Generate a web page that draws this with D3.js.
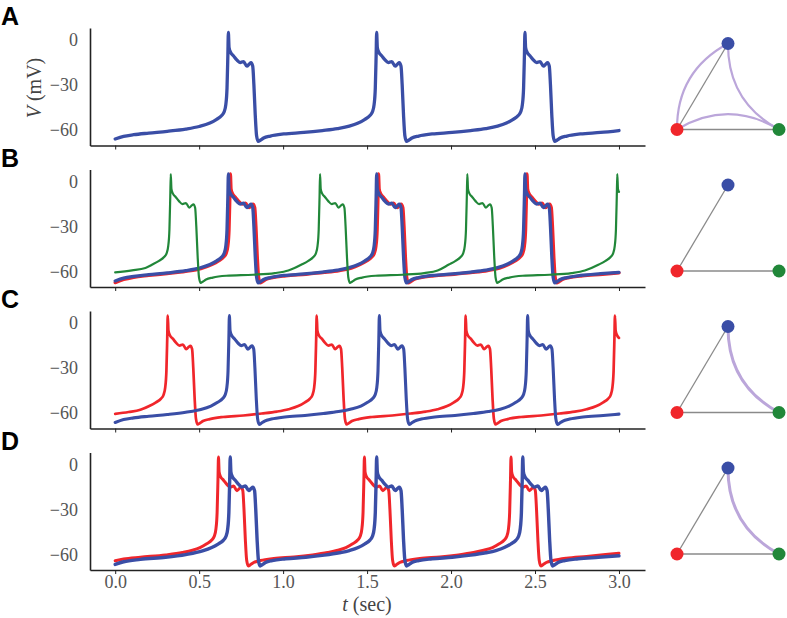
<!DOCTYPE html>
<html><head><meta charset="utf-8">
<script src="https://cdn.jsdelivr.net/npm/d3@7"></script>
<style>body{margin:0;background:#fff}svg{display:block}</style>
</head><body><svg id="c" width="787" height="618"></svg>
<script>
// ---------- data ----------
const xTicks = [0, 0.5, 1.0, 1.5, 2.0, 2.5, 3.0];
const yTicks = [0, -30, -60];
const panelLabels = ["A", "B", "C", "D"];

// Panel A: blue neuron
const aBlue = [[0,-66.2],[0.05,-64.4],[0.11,-63.3],[0.2,-62.2],[0.31,-61],[0.42,-59.5],[0.5,-57.8],
[0.564,-55.5],[0.604,-53],[0.634,-50.5],[0.649,-48],[0.659,-43],[0.666,-32],[0.671,-10],[0.674,5],[0.678,-5],[0.686,-8],[0.704,-10.5],[0.724,-13.3],[0.744,-15.1],[0.764,-14.4],[0.784,-17.5],[0.799,-16],[0.809,-15.2],[0.819,-17.5],[0.826,-30],[0.834,-50],[0.842,-64],[0.852,-67.8],[0.864,-67],[0.884,-65.5],[0.924,-64.2],
[1.004,-62.8],[1.124,-61.8],[1.234,-60.5],[1.324,-59.2],[1.394,-57.6],
[1.447,-55.5],[1.487,-53],[1.517,-50.5],[1.532,-48],[1.542,-43],[1.549,-32],[1.554,-10],[1.557,5],[1.561,-5],[1.569,-8],[1.587,-10.5],[1.607,-13.3],[1.627,-15.1],[1.647,-14.4],[1.667,-17.5],[1.682,-16],[1.692,-15.2],[1.702,-17.5],[1.709,-30],[1.717,-50],[1.725,-64],[1.735,-67.8],[1.747,-67],[1.767,-65.5],[1.807,-64.2],
[1.887,-62.8],[2.007,-61.8],[2.117,-60.5],[2.207,-59.2],[2.277,-57.6],
[2.33,-55.5],[2.37,-53],[2.4,-50.5],[2.415,-48],[2.425,-43],[2.432,-32],[2.437,-10],[2.44,5],[2.444,-5],[2.452,-8],[2.47,-10.5],[2.49,-13.3],[2.51,-15.1],[2.53,-14.4],[2.55,-17.5],[2.565,-16],[2.575,-15.2],[2.585,-17.5],[2.592,-30],[2.6,-50],[2.608,-64],[2.618,-67.8],[2.63,-67],[2.65,-65.5],[2.69,-64.2],
[2.77,-62.8],[2.89,-61.8],[3.0,-60.5]];

// Panel B
const bBlue = [[0,-66.5],[0.05,-64.6],[0.11,-63.4],[0.2,-62.3],[0.31,-61.1],[0.42,-59.6],[0.5,-57.9],
[0.564,-55.5],[0.604,-53],[0.634,-50.5],[0.649,-48],[0.659,-43],[0.666,-32],[0.671,-10],[0.674,5],[0.678,-5],[0.686,-8],[0.704,-10.5],[0.724,-13.3],[0.744,-15.1],[0.764,-14.4],[0.784,-17.5],[0.799,-16],[0.809,-15.2],[0.819,-17.5],[0.826,-30],[0.834,-50],[0.842,-64],[0.852,-67.8],[0.864,-67],[0.884,-65.5],[0.924,-64.2],
[1.004,-62.8],[1.124,-61.8],[1.234,-60.5],[1.324,-59.2],[1.394,-57.6],
[1.447,-55.5],[1.487,-53],[1.517,-50.5],[1.532,-48],[1.542,-43],[1.549,-32],[1.554,-10],[1.557,5],[1.561,-5],[1.569,-8],[1.587,-10.5],[1.607,-13.3],[1.627,-15.1],[1.647,-14.4],[1.667,-17.5],[1.682,-16],[1.692,-15.2],[1.702,-17.5],[1.709,-30],[1.717,-50],[1.725,-64],[1.735,-67.8],[1.747,-67],[1.767,-65.5],[1.807,-64.2],
[1.887,-62.8],[2.007,-61.8],[2.117,-60.5],[2.207,-59.2],[2.277,-57.6],
[2.33,-55.5],[2.37,-53],[2.4,-50.5],[2.415,-48],[2.425,-43],[2.432,-32],[2.437,-10],[2.44,5],[2.444,-5],[2.452,-8],[2.47,-10.5],[2.49,-13.3],[2.51,-15.1],[2.53,-14.4],[2.55,-17.5],[2.565,-16],[2.575,-15.2],[2.585,-17.5],[2.592,-30],[2.6,-50],[2.608,-64],[2.618,-67.8],[2.63,-67],[2.65,-65.5],[2.69,-64.2],
[2.77,-62.8],[2.89,-61.6],[3.0,-60.7]];

const bRed = [[0,-67.6],[0.05,-65.5],[0.11,-64],[0.2,-62.8],[0.31,-61.5],[0.42,-60],[0.51,-58.2],
[0.576,-55.5],[0.616,-53],[0.646,-50.5],[0.661,-48],[0.671,-43],[0.678,-32],[0.683,-10],[0.686,5],[0.69,-5],[0.698,-8],[0.716,-10.5],[0.736,-13.3],[0.756,-15.1],[0.776,-14.4],[0.796,-17.5],[0.811,-16],[0.821,-15.2],[0.831,-17.5],[0.838,-30],[0.846,-50],[0.854,-64],[0.864,-67.8],[0.876,-67],[0.896,-65.5],[0.936,-64.2],
[1.016,-63],[1.136,-62],[1.246,-60.8],[1.336,-59.5],[1.406,-57.9],
[1.458,-55.5],[1.498,-53],[1.528,-50.5],[1.543,-48],[1.553,-43],[1.56,-32],[1.565,-10],[1.568,5],[1.572,-5],[1.58,-8],[1.598,-10.5],[1.618,-13.3],[1.638,-15.1],[1.658,-14.4],[1.678,-17.5],[1.693,-16],[1.703,-15.2],[1.713,-17.5],[1.72,-30],[1.728,-50],[1.736,-64],[1.746,-67.8],[1.758,-67],[1.778,-65.5],[1.818,-64.2],
[1.898,-63],[2.018,-62],[2.128,-60.8],[2.218,-59.5],[2.288,-57.9],
[2.342,-55.5],[2.382,-53],[2.412,-50.5],[2.427,-48],[2.437,-43],[2.444,-32],[2.449,-10],[2.452,5],[2.456,-5],[2.464,-8],[2.482,-10.5],[2.502,-13.3],[2.522,-15.1],[2.542,-14.4],[2.562,-17.5],[2.577,-16],[2.587,-15.2],[2.597,-17.5],[2.604,-30],[2.612,-50],[2.62,-64],[2.63,-67.8],[2.642,-67],[2.662,-65.5],[2.702,-64.2],
[2.782,-63],[2.902,-62],[3.0,-61]];

const bGreen = [[0,-60.7],[0.1,-59.4],[0.18,-57.8],
[0.221,-55.5],[0.261,-53],[0.291,-50.5],[0.306,-48],[0.316,-43],[0.323,-32],[0.328,-10],[0.331,5],[0.335,-5],[0.343,-8],[0.361,-10.5],[0.381,-13.3],[0.401,-15.1],[0.421,-14.4],[0.441,-17.5],[0.456,-16],[0.466,-15.2],[0.476,-17.5],[0.483,-30],[0.491,-50],[0.499,-64],[0.509,-67.8],[0.521,-67],[0.541,-65.5],[0.581,-64.2],
[0.661,-63],[0.821,-62.3],[0.951,-61.2],[1.031,-59.5],
[1.11,-55.5],[1.15,-53],[1.18,-50.5],[1.195,-48],[1.205,-43],[1.212,-32],[1.217,-10],[1.22,5],[1.224,-5],[1.232,-8],[1.25,-10.5],[1.27,-13.3],[1.29,-15.1],[1.31,-14.4],[1.33,-17.5],[1.345,-16],[1.355,-15.2],[1.365,-17.5],[1.372,-30],[1.38,-50],[1.388,-64],[1.398,-67.8],[1.41,-67],[1.43,-65.5],[1.47,-64.2],
[1.55,-63],[1.71,-62.3],[1.84,-61.2],[1.92,-59.5],
[1.987,-55.5],[2.027,-53],[2.057,-50.5],[2.072,-48],[2.082,-43],[2.089,-32],[2.094,-10],[2.097,5],[2.101,-5],[2.109,-8],[2.127,-10.5],[2.147,-13.3],[2.167,-15.1],[2.187,-14.4],[2.207,-17.5],[2.222,-16],[2.232,-15.2],[2.242,-17.5],[2.249,-30],[2.257,-50],[2.265,-64],[2.275,-67.8],[2.287,-67],[2.307,-65.5],[2.347,-64.2],
[2.427,-63],[2.587,-62.3],[2.717,-61.2],[2.797,-59.5],
[2.88,-55.5],[2.92,-53],[2.95,-50.5],[2.965,-48],[2.975,-43],[2.982,-32],[2.987,-10],[2.99,5],[2.994,-5],[3.0,-7]];

// Panel C
const cRed = [[0,-60.7],[0.08,-59.5],[0.15,-58],
[0.203,-55.5],[0.243,-53],[0.273,-50.5],[0.288,-48],[0.298,-43],[0.305,-32],[0.31,-10],[0.313,5],[0.317,-5],[0.325,-8],[0.343,-10.5],[0.363,-13.3],[0.383,-15.1],[0.403,-14.4],[0.423,-17.5],[0.438,-16],[0.448,-15.2],[0.458,-17.5],[0.465,-30],[0.473,-50],[0.481,-64],[0.491,-67.8],[0.503,-67],[0.523,-65.5],[0.563,-64.2],
[0.643,-62.8],[0.763,-61.8],[0.873,-60.5],[0.963,-59.2],[1.033,-57.6],
[1.09,-55.5],[1.13,-53],[1.16,-50.5],[1.175,-48],[1.185,-43],[1.192,-32],[1.197,-10],[1.2,5],[1.204,-5],[1.212,-8],[1.23,-10.5],[1.25,-13.3],[1.27,-15.1],[1.29,-14.4],[1.31,-17.5],[1.325,-16],[1.335,-15.2],[1.345,-17.5],[1.352,-30],[1.36,-50],[1.368,-64],[1.378,-67.8],[1.39,-67],[1.41,-65.5],[1.45,-64.2],
[1.53,-62.8],[1.65,-61.8],[1.76,-60.5],[1.85,-59.2],[1.92,-57.6],
[1.977,-55.5],[2.017,-53],[2.047,-50.5],[2.062,-48],[2.072,-43],[2.079,-32],[2.084,-10],[2.087,5],[2.091,-5],[2.099,-8],[2.117,-10.5],[2.137,-13.3],[2.157,-15.1],[2.177,-14.4],[2.197,-17.5],[2.212,-16],[2.222,-15.2],[2.232,-17.5],[2.239,-30],[2.247,-50],[2.255,-64],[2.265,-67.8],[2.277,-67],[2.297,-65.5],[2.337,-64.2],
[2.417,-62.8],[2.537,-61.8],[2.647,-60.5],[2.737,-59.2],[2.807,-57.6],
[2.866,-55.5],[2.906,-53],[2.936,-50.5],[2.951,-48],[2.961,-43],[2.968,-32],[2.973,-10],[2.976,5],[2.98,-5],[2.988,-8],[3.0,-10]];

const cBlue = [[0,-66.5],[0.05,-64.5],[0.11,-63.4],[0.2,-62.3],[0.31,-61.1],[0.42,-59.6],[0.51,-57.8],
[0.57,-55.5],[0.61,-53],[0.64,-50.5],[0.655,-48],[0.665,-43],[0.672,-32],[0.677,-10],[0.68,5],[0.684,-5],[0.692,-8],[0.71,-10.5],[0.73,-13.3],[0.75,-15.1],[0.77,-14.4],[0.79,-17.5],[0.805,-16],[0.815,-15.2],[0.825,-17.5],[0.832,-30],[0.84,-50],[0.848,-64],[0.858,-67.8],[0.87,-67],[0.89,-65.5],[0.93,-64.2],
[1.01,-62.8],[1.13,-61.8],[1.24,-60.5],[1.33,-59.2],[1.40,-57.6],
[1.463,-55.5],[1.503,-53],[1.533,-50.5],[1.548,-48],[1.558,-43],[1.565,-32],[1.57,-10],[1.573,5],[1.577,-5],[1.585,-8],[1.603,-10.5],[1.623,-13.3],[1.643,-15.1],[1.663,-14.4],[1.683,-17.5],[1.698,-16],[1.708,-15.2],[1.718,-17.5],[1.725,-30],[1.733,-50],[1.741,-64],[1.751,-67.8],[1.763,-67],[1.783,-65.5],[1.823,-64.2],
[1.903,-62.8],[2.023,-61.8],[2.133,-60.5],[2.223,-59.2],[2.293,-57.6],
[2.346,-55.5],[2.386,-53],[2.416,-50.5],[2.431,-48],[2.441,-43],[2.448,-32],[2.453,-10],[2.456,5],[2.46,-5],[2.468,-8],[2.486,-10.5],[2.506,-13.3],[2.526,-15.1],[2.546,-14.4],[2.566,-17.5],[2.581,-16],[2.591,-15.2],[2.601,-17.5],[2.608,-30],[2.616,-50],[2.624,-64],[2.634,-67.8],[2.646,-67],[2.666,-65.5],[2.706,-64.2],
[2.786,-62.8],[2.906,-61.8],[3.0,-60.9]];

// Panel D
const dRed = [[0,-64.3],[0.05,-63.2],[0.15,-62],[0.3,-60.4],[0.4,-58.8],[0.46,-57.3],
[0.505,-55.5],[0.545,-53],[0.575,-50.5],[0.59,-48],[0.6,-43],[0.607,-32],[0.612,-10],[0.615,5],[0.619,-5],[0.627,-8],[0.645,-10.5],[0.665,-13.3],[0.685,-15.1],[0.705,-14.4],[0.725,-17.5],[0.74,-16],[0.75,-15.2],[0.76,-17.5],[0.767,-30],[0.775,-50],[0.783,-64],[0.793,-67.8],[0.805,-67],[0.825,-65.5],[0.865,-64.2],
[0.945,-62.8],[1.065,-61.8],[1.175,-60.4],[1.265,-58.8],[1.325,-57.3],
[1.374,-55.5],[1.414,-53],[1.444,-50.5],[1.459,-48],[1.469,-43],[1.476,-32],[1.481,-10],[1.484,5],[1.488,-5],[1.496,-8],[1.514,-10.5],[1.534,-13.3],[1.554,-15.1],[1.574,-14.4],[1.594,-17.5],[1.609,-16],[1.619,-15.2],[1.629,-17.5],[1.636,-30],[1.644,-50],[1.652,-64],[1.662,-67.8],[1.674,-67],[1.694,-65.5],[1.734,-64.2],
[1.814,-62.8],[1.934,-61.8],[2.044,-60.4],[2.134,-58.8],[2.194,-57.3],
[2.247,-55.5],[2.287,-53],[2.317,-50.5],[2.332,-48],[2.342,-43],[2.349,-32],[2.354,-10],[2.357,5],[2.361,-5],[2.369,-8],[2.387,-10.5],[2.407,-13.3],[2.427,-15.1],[2.447,-14.4],[2.467,-17.5],[2.482,-16],[2.492,-15.2],[2.502,-17.5],[2.509,-30],[2.517,-50],[2.525,-64],[2.535,-67.8],[2.547,-67],[2.567,-65.5],[2.607,-64.2],
[2.687,-62.6],[2.807,-61.4],[2.92,-60.2],[3.0,-59.3]];

const dBlue = [[0,-66.8],[0.05,-65],[0.15,-63.4],[0.3,-62],[0.42,-60.2],[0.52,-57.8],
[0.575,-55.5],[0.615,-53],[0.645,-50.5],[0.66,-48],[0.67,-43],[0.677,-32],[0.682,-10],[0.685,5],[0.689,-5],[0.697,-8],[0.715,-10.5],[0.735,-13.3],[0.755,-15.1],[0.775,-14.4],[0.795,-17.5],[0.81,-16],[0.82,-15.2],[0.83,-17.5],[0.837,-30],[0.845,-50],[0.853,-64],[0.863,-67.8],[0.875,-67],[0.895,-65.5],[0.935,-64.2],
[1.015,-63],[1.135,-62],[1.245,-60.6],[1.335,-59],[1.395,-57.5],
[1.447,-55.5],[1.487,-53],[1.517,-50.5],[1.532,-48],[1.542,-43],[1.549,-32],[1.554,-10],[1.557,5],[1.561,-5],[1.569,-8],[1.587,-10.5],[1.607,-13.3],[1.627,-15.1],[1.647,-14.4],[1.667,-17.5],[1.682,-16],[1.692,-15.2],[1.702,-17.5],[1.709,-30],[1.717,-50],[1.725,-64],[1.735,-67.8],[1.747,-67],[1.767,-65.5],[1.807,-64.2],
[1.887,-63],[2.007,-62],[2.117,-60.6],[2.207,-59],[2.267,-57.5],
[2.317,-55.5],[2.357,-53],[2.387,-50.5],[2.402,-48],[2.412,-43],[2.419,-32],[2.424,-10],[2.427,5],[2.431,-5],[2.439,-8],[2.457,-10.5],[2.477,-13.3],[2.497,-15.1],[2.517,-14.4],[2.537,-17.5],[2.552,-16],[2.562,-15.2],[2.572,-17.5],[2.579,-30],[2.587,-50],[2.595,-64],[2.605,-67.8],[2.617,-67],[2.637,-65.5],[2.677,-64.2],
[2.757,-63],[2.877,-62],[3.0,-61]];

// network diagrams: node positions in unit triangle, edges per panel
const netNodes = [{id:"red", x:0, y:0}, {id:"green", x:1, y:0}, {id:"blue", x:0.5, y:1}];
const netEdgesA = [["red","blue","line"],["red","green","line"],["red","blue","arc"],["green","blue","arc"],["red","green","arc"]];
const netEdgesB = [["red","blue","line"],["red","green","line"]];
const netEdgesC = [["red","blue","line"],["red","green","line"],["green","blue","arc"]];
const netEdgesD = [["red","blue","line"],["red","green","line"],["green","blue","arc"]];

// ---------- styles / layout ----------
const COL = {blue:"#3a4ea6", red:"#f0262b", green:"#218739", purple:"#bba6da", gray:"#8a8a8a"};
const panels = [
  {traces:[{d:aBlue,c:"blue",w:3.3}], edges:netEdgesA, arcW:2.2},
  {traces:[{d:bRed,c:"red",w:3.3},{d:bBlue,c:"blue",w:3.3},{d:bGreen,c:"green",w:2.2}], edges:netEdgesB, arcW:2.2},
  {traces:[{d:cRed,c:"red",w:2.7},{d:cBlue,c:"blue",w:3.1}], edges:netEdgesC, arcW:3},
  {traces:[{d:dRed,c:"red",w:3},{d:dBlue,c:"blue",w:3.4}], edges:netEdgesD, arcW:3}
];
const panelTop = [28, 169.5, 311, 452.5];
const PH = 117.5;

const svg = d3.select("#c");
const x = d3.scaleLinear().domain([-0.15, 3.155]).range([90, 645]);
const serif = "'Liberation Serif','Times New Roman',serif";

panels.forEach((p, i) => {
  const top = panelTop[i];
  const y = d3.scaleLinear().domain([-70.5, 8]).range([top + PH, top]);
  const g = svg.append("g");

  // x axis
  const xa = d3.axisBottom(x).tickValues(xTicks).tickSizeInner(4).tickSizeOuter(0).tickPadding(1)
    .tickFormat(i === 3 ? d3.format(".1f") : () => "");
  const gx = g.append("g").attr("transform", `translate(0,${top + PH})`).call(xa);
  gx.select(".domain").attr("stroke", "#222").attr("stroke-width", 1.6);
  gx.selectAll(".tick line").attr("stroke", "#222").attr("stroke-width", 1);
  gx.selectAll(".tick text").attr("font-family", serif).attr("font-size", 18).attr("fill", "#555");

  // y axis
  const ya = d3.axisLeft(y).tickValues(yTicks).tickSizeInner(0).tickSizeOuter(0).tickPadding(12).tickFormat(d3.format("d"));
  const gy = g.append("g").attr("transform", `translate(90,0)`).call(ya);
  gy.select(".domain").attr("stroke", "#222").attr("stroke-width", 1.6);
  gy.selectAll(".tick text").attr("font-family", serif).attr("font-size", 18).attr("fill", "#555");

  // traces
  const line = d3.line().x(d => x(d[0])).y(d => y(d[1])).curve(d3.curveMonotoneX);
  p.traces.forEach(t => {
    g.append("path").attr("d", line(t.d)).attr("fill", "none")
      .attr("stroke", COL[t.c]).attr("stroke-width", t.w)
      .attr("stroke-linejoin", "round").attr("stroke-linecap", "round");
  });

  // panel letter
  svg.append("text").attr("x", 1).attr("y", top - 3).text(panelLabels[i])
    .attr("font-family", "'Liberation Sans',Arial,sans-serif").attr("font-weight", "bold")
    .attr("font-size", 25).attr("fill", "#000");

  // network diagram
  const nx = d3.scaleLinear().domain([0, 1]).range([677, 779]);
  const ny = d3.scaleLinear().domain([0, 1]).range([top + 101.5, top + 15.5]);
  const pos = {};
  netNodes.forEach(n => pos[n.id] = [nx(n.x), ny(n.y)]);
  const ng = svg.append("g");
  p.edges.filter(e => e[2] === "arc").forEach(e => {
    const [x1, y1] = pos[e[0]], [x2, y2] = pos[e[1]];
    const dx = x2 - x1, dy = y2 - y1, r = 0.3;
    const cx = (x1 + x2) / 2 + r * dy, cy = (y1 + y2) / 2 - r * dx;
    const path = d3.path(); path.moveTo(x1, y1); path.quadraticCurveTo(cx, cy, x2, y2);
    ng.append("path").attr("d", path.toString()).attr("fill", "none")
      .attr("stroke", COL.purple).attr("stroke-width", p.arcW).attr("stroke-linecap", "round");
  });
  p.edges.filter(e => e[2] === "line").forEach(e => {
    ng.append("line").attr("x1", pos[e[0]][0]).attr("y1", pos[e[0]][1])
      .attr("x2", pos[e[1]][0]).attr("y2", pos[e[1]][1])
      .attr("stroke", COL.gray).attr("stroke-width", 1.3);
  });
  netNodes.forEach(n => {
    ng.append("circle").attr("cx", pos[n.id][0]).attr("cy", pos[n.id][1]).attr("r", 6.5).attr("fill", COL[n.id]);
  });
});

// axis labels
const xl = svg.append("text").attr("x", 367).attr("y", 611).attr("text-anchor", "middle")
  .attr("font-family", serif).attr("font-size", 20).attr("fill", "#444");
xl.append("tspan").attr("font-style", "italic").text("t");
xl.append("tspan").text(" (sec)");
const yl = svg.append("text").attr("transform", "translate(41,88) rotate(-90)").attr("text-anchor", "middle")
  .attr("font-family", serif).attr("font-size", 20).attr("fill", "#444");
yl.append("tspan").attr("font-style", "italic").text("V");
yl.append("tspan").text(" (mV)");
</script></body></html>
